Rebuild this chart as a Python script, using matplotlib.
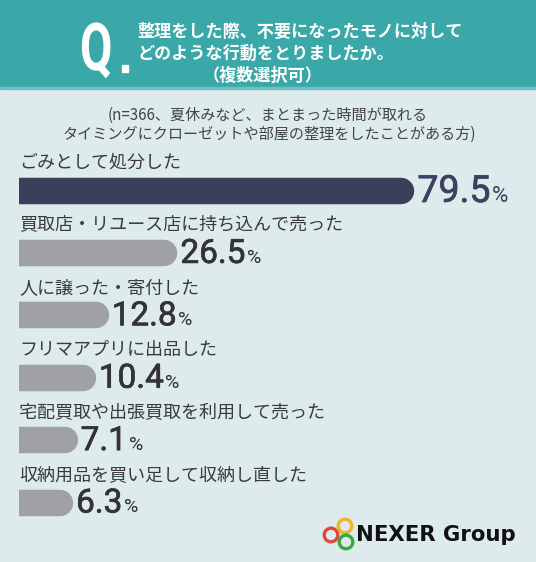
import numpy as np
import matplotlib
matplotlib.use('Agg')
import matplotlib.pyplot as plt
from matplotlib.patches import Rectangle, Circle, PathPatch
from matplotlib.textpath import TextPath
from matplotlib.font_manager import FontProperties
import matplotlib.transforms as mtransforms
import matplotlib.patheffects as pe

plt.rcParams['font.family'] = ['Noto Sans CJK JP', 'DejaVu Sans']

# data
categories = ['ごみとして処分した',
              '買取店・リユース店に持ち込んで売った',
              '人に譲った・寄付した',
              'フリマアプリに出品した',
              '宅配買取や出張買取を利用して売った',
              '収納用品を買い足して収納し直した']
values = [79.5, 26.5, 12.8, 10.4, 7.1, 6.3]
value_labels = ['79.5', '26.5', '12.8', '10.4', '7.1', '6.3']

title_lines = ['整理をした際、不要になったモノに対して', 'どのような行動をとりましたか。']
title_note = '（複数選択可）'
sub_lines = ['(n=366、夏休みなど、まとまった時間が取れる',
             'タイミングにクローゼットや部屋の整理をしたことがある方)']

W, H = 536, 562
bg_col = '#deebed'
teal = '#3aa8a8'
navy = '#3c3f5c'
gray = '#a0a1a5'
txt = '#3a3a3a'

fig = plt.figure(figsize=(W/100, H/100), dpi=100, facecolor=bg_col)

# background / decorations in pixel coordinates
bg = fig.add_axes([0, 0, 1, 1])
bg.set_xlim(0, W)
bg.set_ylim(H, 0)
bg.axis('off')
bg.set_facecolor(bg_col)
bg.add_patch(Rectangle((0, 0), W, 88, color=teal, zorder=1))
bg.add_patch(Rectangle((0, 87), W, 2, color='#6cc0c0', zorder=1))

# narrow "Q." mark
qpath = TextPath((0, 0), 'Q', size=1, prop=FontProperties(family='Roboto', weight='bold'))
qtr = mtransforms.Affine2D().scale(47, -66).translate(80, 70)
bg.add_patch(PathPatch(qtr.transform_path(qpath), fc='white', ec='none', zorder=3))
bg.add_patch(Rectangle((122, 65), 6, 7, color='white', zorder=3))

bg.text(137, 32, title_lines[0], color='white', fontsize=12.3, fontweight='bold',
        ha='left', va='center', zorder=3)
bg.text(137, 54, title_lines[1], color='white', fontsize=12.3, fontweight='bold',
        ha='left', va='center', zorder=3)
bg.text(263, 76, title_note, color='white', fontsize=12.3, fontweight='bold',
        ha='center', va='center', zorder=3)

bg.text(268, 115, sub_lines[0], color='#444444', fontsize=10.9, ha='center', va='center')
bg.text(269, 134, sub_lines[1], color='#444444', fontsize=10.9, ha='center', va='center')

# logo
for cx, cy, c in [(331, 535, '#e0493a'), (345, 526, '#f0b429'), (346, 542, '#3aa845')]:
    bg.add_patch(Circle((cx, cy), 6.8, fill=False, lw=2.4, ec=c, zorder=3))
bg.text(356, 535, 'NEXER Group', color='#111111', fontsize=15.3, fontweight='bold',
        family='DejaVu Sans', ha='left', va='center')

# bar chart
ax = fig.add_axes([19/W, 1-533.7/H, (W-19)/W, 374.4/H])
ax.patch.set_alpha(0)
p = 0.88
ax.set_xscale('function', functions=(lambda x: np.sign(x)*np.abs(x)**p,
                                     lambda x: np.sign(x)*np.abs(x)**(1/p)))
ax.set_xlim(0, 112)
ax.set_ylim(5.5, -0.5)
ax.axis('off')

renderer = fig.canvas.get_renderer()
bar_px = 26.5
lw = bar_px*72/100
for i, (cat, v, lab) in enumerate(zip(categories, values, value_labels)):
    col = navy if i == 0 else gray
    ax.plot([0, v], [i, i], color=col, lw=lw, solid_capstyle='round', clip_on=True)
    ax.annotate(cat, xy=(0, i), xytext=(0, 27.5*0.72), textcoords='offset points',
                ha='left', va='center', fontsize=13, color=txt)
    fs = 27 if i == 0 else 24
    tcol = '#3c4160' if i == 0 else '#333333'
    dy = -11.5 if i == 0 else -10
    t = ax.annotate(lab, xy=(v, i), xytext=(16*0.72, dy*0.72), textcoords='offset points',
                    ha='left', va='baseline', fontsize=fs, color=tcol, fontweight='normal',
                    family='Roboto',
                    path_effects=[pe.withStroke(linewidth=0.5, foreground=tcol)])
    bb = t.get_window_extent(renderer)
    ax.annotate('%', xy=(v, i), xytext=((16 + bb.width + 1.5)*0.72, dy*0.72),
                textcoords='offset points', ha='left', va='baseline',
                fontsize=16 if i == 0 else 14, color=tcol, family='Roboto')

fig.savefig('out.png', dpi=100, facecolor=bg_col)
